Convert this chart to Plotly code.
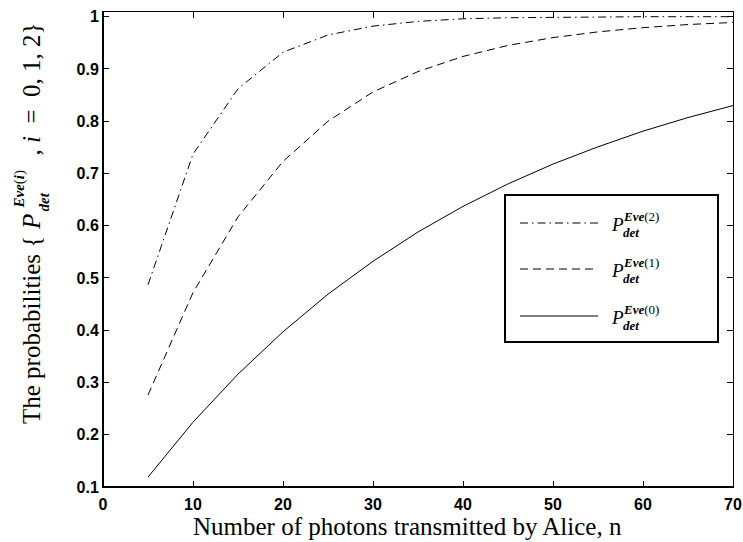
import plotly.graph_objects as go

# ---- data ----
n_photons = [5, 10, 15, 20, 25, 30, 35, 40, 45, 50, 55, 60, 65, 70]
p_eve0 = [0.119, 0.224, 0.316, 0.397, 0.469, 0.532, 0.588, 0.637, 0.680, 0.718, 0.751, 0.781, 0.807, 0.830]
p_eve1 = [0.276, 0.472, 0.617, 0.723, 0.800, 0.856, 0.895, 0.924, 0.945, 0.960, 0.971, 0.979, 0.985, 0.989]
p_eve2 = [0.487, 0.737, 0.862, 0.932, 0.965, 0.982, 0.991, 0.996, 0.998, 0.999, 0.999, 1.000, 1.000, 1.000]
x_ticks = [0, 10, 20, 30, 40, 50, 60, 70]
y_ticks = [0.1, 0.2, 0.3, 0.4, 0.5, 0.6, 0.7, 0.8, 0.9, 1.0]
y_tick_text = ["0.1", "0.2", "0.3", "0.4", "0.5", "0.6", "0.7", "0.8", "0.9", "1"]
legend_labels = ["2", "1", "0"]

# ---- layout geometry (pixels) ----
W, H = 743, 542
L, R, T, B = 103, 733, 12, 487


def xp(px):
    return (px - L) / (R - L)


def yp(py):
    return (B - py) / (B - T)


SERIF = "Liberation Serif"
SANS = "Liberation Sans"
TITLE_SIZE = 25

fig = go.Figure()
styles = {
    "0": "solid",
    "1": "8px,5px",
    "2": "8px,4px,1.5px,4px",
}
series = {"0": p_eve0, "1": p_eve1, "2": p_eve2}
for key in ["0", "1", "2"]:
    fig.add_trace(go.Scatter(
        x=n_photons, y=series[key], mode="lines",
        line=dict(color="black", width=1, dash=styles[key]),
        showlegend=False, name="P_det^Eve(%s)" % key,
    ))

axis_common = dict(
    showgrid=False, zeroline=False, showline=True, linecolor="black",
    linewidth=1, mirror="ticks", ticks="inside", ticklen=6, tickwidth=1,
    tickcolor="black", automargin=False,
    tickfont=dict(family=SANS, size=16, color="black", weight="bold"),
)
fig.update_xaxes(range=[0, 70], tickvals=x_ticks, ticklabelstandoff=3, **axis_common)
fig.update_yaxes(range=[0.1, 1.009], tickvals=y_ticks, ticktext=y_tick_text,
                 ticklabelstandoff=0, **axis_common)

shapes = [
    # thicker left / bottom axis lines
    dict(type="line", xref="paper", yref="paper", x0=0, x1=0, y0=0, y1=1,
         line=dict(color="black", width=2), layer="above"),
    dict(type="line", xref="paper", yref="paper", x0=0, x1=1, y0=0, y1=0,
         line=dict(color="black", width=2), layer="above"),
    # legend box
    dict(type="rect", xref="paper", yref="paper", x0=xp(505), x1=xp(718),
         y0=yp(342), y1=yp(195), line=dict(color="black", width=2),
         fillcolor="white", layer="above"),
]
annotations = []
row_y = [223, 269, 316]
for lab, ry in zip(legend_labels, row_y):
    shapes.append(dict(type="line", xref="paper", yref="paper",
                       x0=xp(520), x1=xp(598), y0=yp(ry), y1=yp(ry),
                       line=dict(color="black", width=1, dash=styles[lab]),
                       layer="above"))
    annotations.append(dict(text="<i>P</i>", xref="paper", yref="paper",
                            x=xp(609), y=yp(ry + 1), xanchor="left", yanchor="middle",
                            showarrow=False, font=dict(family=SERIF, size=19, color="black")))
    annotations.append(dict(text="<b><i>Eve</i></b>(%s)" % lab, xref="paper", yref="paper",
                            x=xp(621), y=yp(ry - 7), xanchor="left", yanchor="middle",
                            showarrow=False, font=dict(family=SERIF, size=13, color="black")))
    annotations.append(dict(text="<b><i>det</i></b>", xref="paper", yref="paper",
                            x=xp(621), y=yp(ry + 9), xanchor="left", yanchor="middle",
                            showarrow=False, font=dict(family=SERIF, size=13, color="black")))

# x-axis title
annotations.append(dict(text="Number of photons transmitted by Alice, n",
                        xref="paper", yref="paper", x=xp(407), y=yp(526),
                        xanchor="center", yanchor="middle", showarrow=False,
                        font=dict(family=SERIF, size=TITLE_SIZE, color="black")))

# y-axis title (rotated pieces)
annotations += [
    dict(text="The probabilities {", xref="paper", yref="paper",
         x=xp(31), y=yp(234), xanchor="center", yanchor="top", textangle=-90,
         showarrow=False, font=dict(family=SERIF, size=TITLE_SIZE, color="black")),
    dict(text="<i>P</i>", xref="paper", yref="paper",
         x=xp(31), y=yp(222), xanchor="center", yanchor="middle", textangle=-90,
         showarrow=False, font=dict(family=SERIF, size=TITLE_SIZE, color="black")),
    dict(text="<b><i>Eve</i></b>(<b><i>i</i></b>)", xref="paper", yref="paper",
         x=xp(19), y=yp(211), xanchor="center", yanchor="bottom", textangle=-90,
         showarrow=False, font=dict(family=SERIF, size=15, color="black")),
    dict(text="<b><i>det</i></b>", xref="paper", yref="paper",
         x=xp(44), y=yp(214), xanchor="center", yanchor="bottom", textangle=-90,
         showarrow=False, font=dict(family=SERIF, size=15, color="black")),
    dict(text=", <i>i</i>&nbsp;&nbsp;=&nbsp;&nbsp;0, 1, 2}", xref="paper", yref="paper",
         x=xp(31), y=yp(158), xanchor="center", yanchor="bottom", textangle=-90,
         showarrow=False, font=dict(family=SERIF, size=TITLE_SIZE, color="black")),
]

fig.update_layout(
    width=W, height=H,
    margin=dict(l=L, r=W - R, t=T, b=H - B, pad=0, autoexpand=False),
    paper_bgcolor="white", plot_bgcolor="white",
    shapes=shapes, annotations=annotations,
    showlegend=False,
)

fig.write_html(
    "out.html",
    config={"displayModeBar": False},
    post_script="document.body.style.margin='0';document.body.style.overflow='hidden';",
)
